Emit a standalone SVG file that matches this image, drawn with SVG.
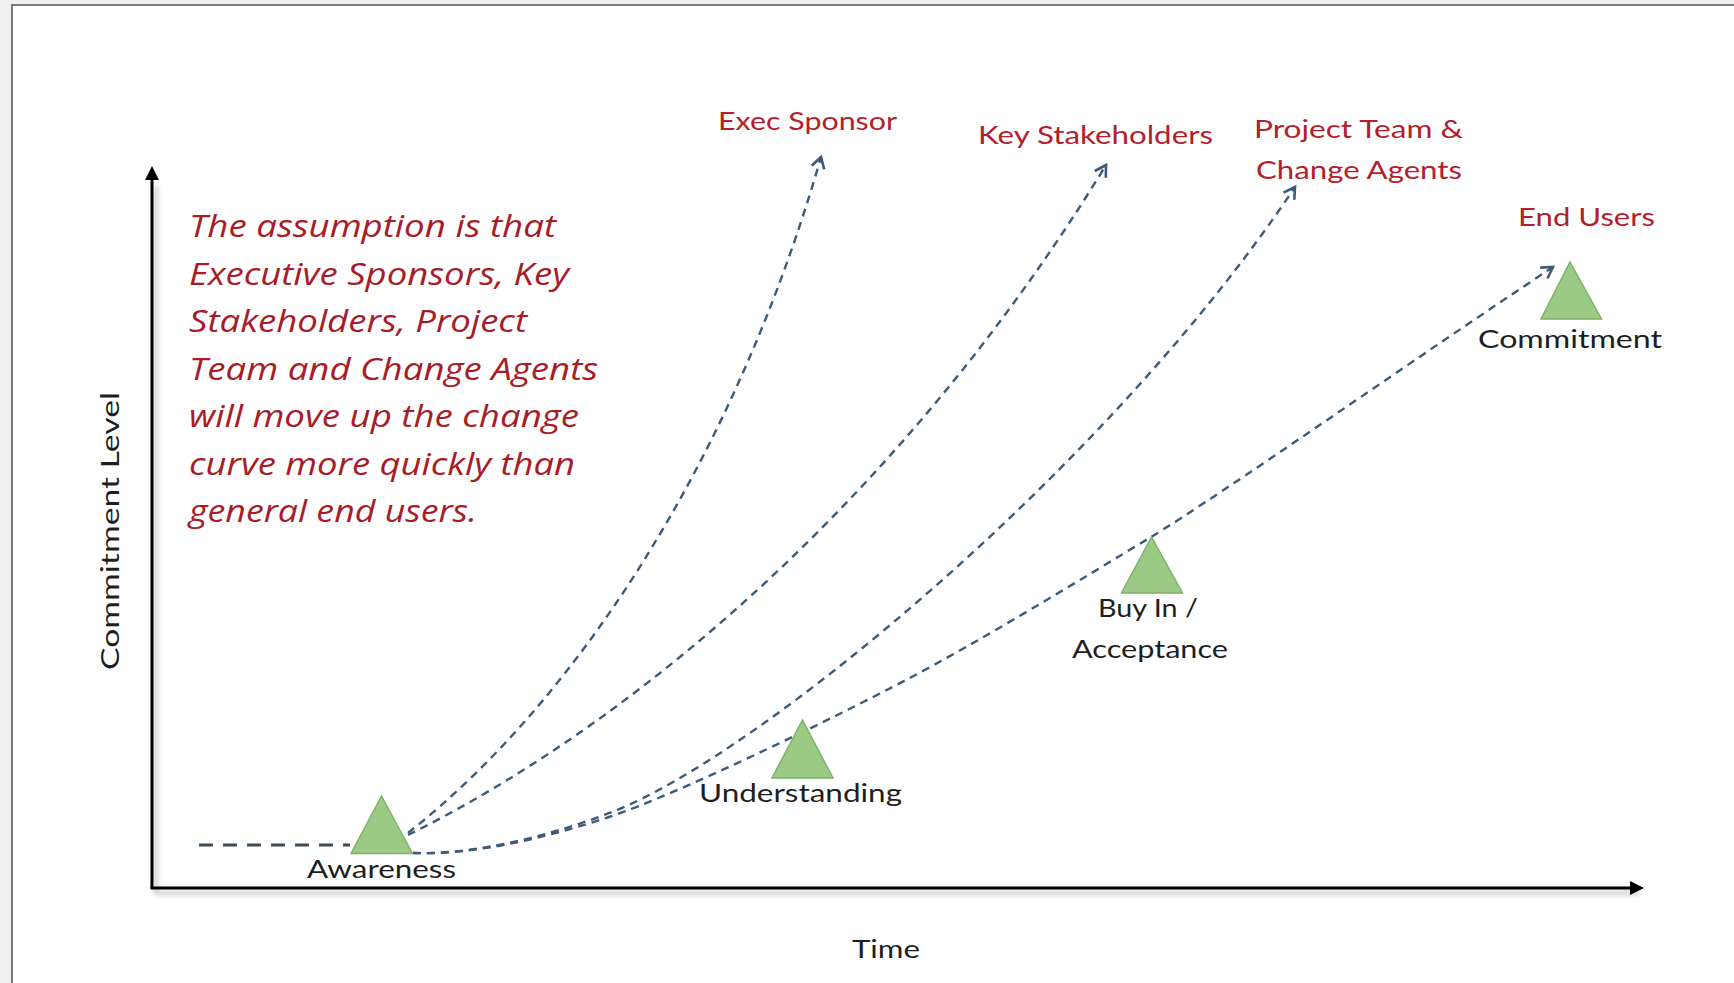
<svg xmlns="http://www.w3.org/2000/svg" width="1734" height="983" viewBox="0 0 1734 983">
<defs>
<style>
.lbl{font-family:Lato,"Open Sans","Liberation Sans",sans-serif;font-size:25px;fill:#1e1e1e}
.red{font-family:Lato,"Open Sans","Liberation Sans",sans-serif;font-size:25px;fill:#b3202b}
.para{font-family:"Open Sans","Noto Sans","Liberation Sans",sans-serif;font-style:italic;font-size:31px;fill:#a81c28}
.curve{fill:none;stroke:#3d5a76;stroke-width:2.4;stroke-dasharray:8 6;marker-end:url(#open)}
.tri{fill:#9bca85;stroke:#7fb16a;stroke-width:1.5}
.axis{stroke:#000;stroke-width:3;fill:none}
.shadow{stroke:#888;stroke-width:4;fill:none;opacity:0.45;filter:url(#blur)}
</style>
<filter id="blur" x="-10%" y="-10%" width="120%" height="120%" filterUnits="userSpaceOnUse">
<feGaussianBlur stdDeviation="2.5"/>
</filter>
<marker id="open" markerUnits="userSpaceOnUse" markerWidth="16" markerHeight="16" refX="12" refY="8" orient="auto">
<path d="M1,1.5 L12,8 L1,14.5" fill="none" stroke="#3d5a76" stroke-width="2.6" stroke-dasharray="none"/>
</marker>
<marker id="solid" markerUnits="userSpaceOnUse" markerWidth="15" markerHeight="15" refX="0" refY="7" orient="auto">
<path d="M0,0 L14,7 L0,14 z" fill="#000"/>
</marker>
</defs>

<rect x="0" y="0" width="1734" height="983" fill="#f0f0f0"/>
<rect x="12" y="5" width="1740" height="990" fill="#ffffff" stroke="#7a7a7a" stroke-width="2"/>

<g id="axes">
<path class="shadow" d="M156,186 V893 H1640"/>
<line class="axis" x1="152" y1="888" x2="152" y2="180" marker-end="url(#solid)"/>
<line class="axis" x1="150.5" y1="888" x2="1630" y2="888" marker-end="url(#solid)"/>
<text class="lbl" transform="translate(119,670) rotate(-90)" x="0" y="0" textLength="278" lengthAdjust="spacingAndGlyphs">Commitment Level</text>
<text class="lbl" x="852" y="958" textLength="68" lengthAdjust="spacingAndGlyphs">Time</text>
</g>

<g id="note">
<text class="para" x="189" y="237" textLength="367" lengthAdjust="spacingAndGlyphs">The assumption is that</text>
<text class="para" x="189" y="285" textLength="380" lengthAdjust="spacingAndGlyphs">Executive Sponsors, Key</text>
<text class="para" x="189" y="332" textLength="338" lengthAdjust="spacingAndGlyphs">Stakeholders, Project</text>
<text class="para" x="189" y="380" textLength="409" lengthAdjust="spacingAndGlyphs">Team and Change Agents</text>
<text class="para" x="189" y="427" textLength="390" lengthAdjust="spacingAndGlyphs">will move up the change</text>
<text class="para" x="189" y="475" textLength="386" lengthAdjust="spacingAndGlyphs">curve more quickly than</text>
<text class="para" x="189" y="522" textLength="288" lengthAdjust="spacingAndGlyphs">general end users.</text>
</g>

<g id="connectors">
<path d="M199,845 H350" fill="none" stroke="#3a4a57" stroke-width="3" stroke-dasharray="14 10"/>
<path class="curve" d="M408,833 C588,691 740,440 821,157"/>
<path class="curve" d="M408,835 C658,711 920,470 1106,165"/>
<path class="curve" d="M413,853 C470,855 545,838 612,812 C760,755 1110,465 1295,187"/>
<path class="curve" d="M413,853 C470,855 540,840 609,817 S830,720 906,680 S1080,580 1151,537 S1420,355 1553,267"/>
</g>

<g id="exec-sponsor"><text class="red" x="718" y="130" textLength="179" lengthAdjust="spacingAndGlyphs">Exec Sponsor</text></g>
<g id="key-stakeholders"><text class="red" x="978" y="144" textLength="235" lengthAdjust="spacingAndGlyphs">Key Stakeholders</text></g>
<g id="project-team">
<text class="red" x="1254" y="138" textLength="209" lengthAdjust="spacingAndGlyphs">Project Team &amp;</text>
<text class="red" x="1256" y="179" textLength="206" lengthAdjust="spacingAndGlyphs">Change Agents</text>
</g>
<g id="end-users"><text class="red" x="1518" y="226" textLength="137" lengthAdjust="spacingAndGlyphs">End Users</text></g>

<g id="awareness">
<polygon class="tri" points="381.5,796 351,853.5 412.5,853.5"/>
<text class="lbl" x="307" y="878" textLength="149" lengthAdjust="spacingAndGlyphs">Awareness</text>
</g>
<g id="understanding">
<polygon class="tri" points="802.5,720 772,778 833,778"/>
<text class="lbl" x="699" y="802" textLength="203" lengthAdjust="spacingAndGlyphs">Understanding</text>
</g>
<g id="buy-in">
<polygon class="tri" points="1151.5,537 1121.5,593 1182.5,593"/>
<text class="lbl" x="1098" y="617" textLength="100" lengthAdjust="spacingAndGlyphs">Buy In /</text>
<text class="lbl" x="1072" y="658" textLength="156" lengthAdjust="spacingAndGlyphs">Acceptance</text>
</g>
<g id="commitment">
<polygon class="tri" points="1570,262 1541,319 1601.5,319"/>
<text class="lbl" x="1478" y="348" textLength="184" lengthAdjust="spacingAndGlyphs">Commitment</text>
</g>
</svg>
